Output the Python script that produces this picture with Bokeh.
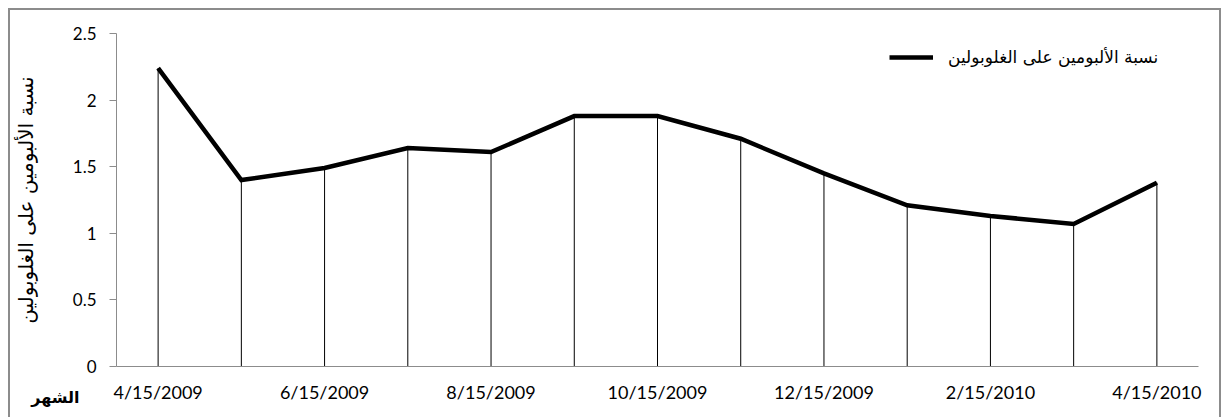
from bokeh.plotting import figure
from bokeh.models import FactorRange, Legend, LegendItem, Label, FixedTicker, CustomJSTickFormatter
from bokeh.embed import file_html
from bokeh.resources import INLINE

months = ["4/15/2009", "5/15/2009", "6/15/2009", "7/15/2009", "8/15/2009",
          "9/15/2009", "10/15/2009", "11/15/2009", "12/15/2009", "1/15/2010",
          "2/15/2010", "3/15/2010", "4/15/2010"]
ratio = [2.24, 1.40, 1.49, 1.64, 1.61, 1.88, 1.88, 1.71, 1.45, 1.21, 1.13, 1.07, 1.38]
shown_labels = ["4/15/2009", "6/15/2009", "8/15/2009", "10/15/2009",
                "12/15/2009", "2/15/2010", "4/15/2010"]
y_ticks = [0, 0.5, 1, 1.5, 2, 2.5]
y_tick_labels = ["0", "0.5", "1", "1.5", "2", "2.5"]
series_name = "نسبة الألبومين على الغلوبولين"
y_title = "نسبة الألبومين على الغلوبولين"
x_title = "الشهر"

AR_FONT = "DejaVu Sans"
NUM_FONT = "Lato"

p = figure(width=1213, height=414, x_range=FactorRange(factors=months),
           y_range=(0, 2.5), output_backend="svg", toolbar_location=None,
           min_border_left=105, min_border_right=25, min_border_top=23,
           min_border_bottom=52)
p.styles = {"margin-left": "8px", "margin-top": "8px",
            "border": "2px solid #8c8c8c"}
p.outline_line_color = None
p.xgrid.grid_line_color = None
p.ygrid.grid_line_color = None
p.background_fill_color = "white"
p.border_fill_color = "white"

# drop lines
p.segment(x0=months, y0=[0] * len(months), x1=months, y1=ratio,
          line_color="black", line_width=1)
r = p.line(x=months, y=ratio, line_color="black", line_width=4.5,
           line_join="miter")

# axes
xa = p.xaxis[0]
xa.axis_line_color = "#8c8c8c"
xa.major_tick_line_color = None
xa.minor_tick_line_color = None
xa.formatter = CustomJSTickFormatter(args=dict(shown=shown_labels),
                                     code="return shown.includes(tick) ? tick : '';")
xa.major_label_text_font = NUM_FONT
xa.major_label_text_font_size = "18px"
xa.major_label_text_color = "black"
xa.major_label_standoff = 8

ya = p.yaxis[0]
ya.ticker = FixedTicker(ticks=y_ticks)
ya.major_label_overrides = {t: l for t, l in zip(y_ticks, y_tick_labels)}
ya.axis_line_color = "#8c8c8c"
ya.major_tick_line_color = "#8c8c8c"
ya.major_tick_out = 7
ya.major_tick_in = 0
ya.minor_tick_line_color = None
ya.major_label_text_font = NUM_FONT
ya.major_label_text_font_size = "17px"
ya.major_label_text_color = "black"
ya.major_label_standoff = 13
ya.axis_label = y_title
ya.axis_label_text_font = AR_FONT
ya.axis_label_text_font_size = "20px"
ya.axis_label_text_font_style = "normal"
ya.axis_label_text_color = "black"
ya.axis_label_standoff = 32

legend = Legend(items=[LegendItem(label=series_name, renderers=[r])],
                location=(773, 299), padding=0, margin=0, spacing=0,
                glyph_width=44, label_standoff=15,
                border_line_color=None, background_fill_alpha=0)
legend.label_text_font = AR_FONT
legend.label_text_font_size = "17px"
legend.label_text_color = "black"
p.add_layout(legend)

lbl = Label(x=-37, y=27, x_units="screen", y_units="screen", text=x_title,
            text_align="right", text_baseline="middle",
            text_font=AR_FONT, text_font_size="16px",
            text_font_style="bold", text_color="black")
p.add_layout(lbl, "below")

open("out.html", "w").write(file_html(p, INLINE))
